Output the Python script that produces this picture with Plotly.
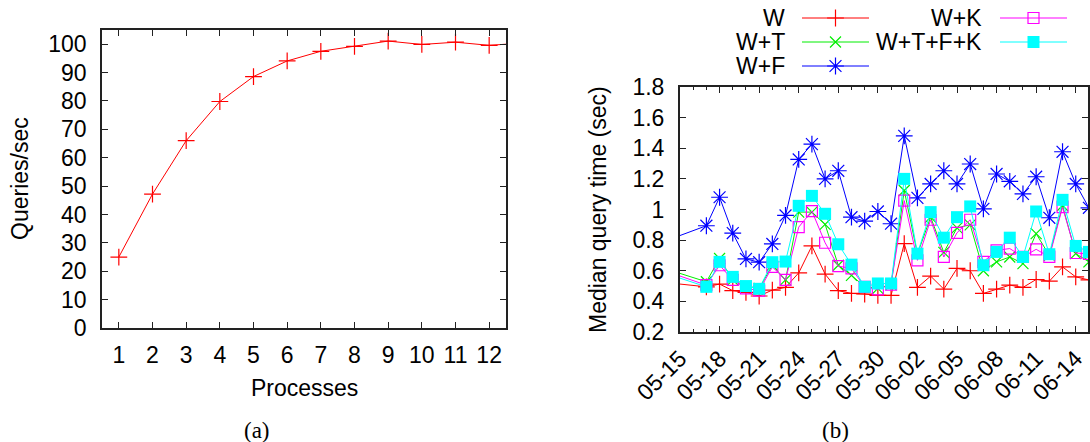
import plotly.graph_objects as go

W_PX, H_PX = 1090, 442

# ---------------- data ----------------
processes = [1, 2, 3, 4, 5, 6, 7, 8, 9, 10, 11, 12, 13]
queries_per_sec = [25.0, 47.2, 66.0, 79.8, 88.6, 94.1, 97.5, 99.2, 101.1, 99.9, 100.7, 99.6, 100.4]

dates = ["2013-05-14", "2013-05-17", "2013-05-18", "2013-05-19", "2013-05-20", "2013-05-21",
         "2013-05-22", "2013-05-23", "2013-05-24", "2013-05-25", "2013-05-26", "2013-05-27",
         "2013-05-28", "2013-05-29", "2013-05-30", "2013-05-31", "2013-06-01", "2013-06-02",
         "2013-06-03", "2013-06-04", "2013-06-05", "2013-06-06", "2013-06-07", "2013-06-08",
         "2013-06-09", "2013-06-10", "2013-06-11", "2013-06-12", "2013-06-13", "2013-06-14",
         "2013-06-15"]

w = [0.522, 0.495, 0.513, 0.47, 0.459, 0.435, 0.474, 0.491, 0.586, 0.762, 0.578, 0.47,
     0.452, 0.448, 0.439, 0.439, 0.777, 0.491, 0.565, 0.48, 0.615, 0.60, 0.452, 0.48,
     0.506, 0.491, 0.543, 0.532, 0.625, 0.56, 0.54]
w_t = [0.61, 0.528, 0.68, 0.54, 0.50, 0.485, 0.636, 0.54, 0.983, 0.983, 0.903, 0.636,
       0.57, 0.495, 0.485, 0.51, 1.124, 0.71, 0.95, 0.72, 0.88, 0.90, 0.60, 0.658,
       0.69, 0.647, 0.842, 0.70, 1.026, 0.712, 0.658]
w_f = [0.798, 0.894, 1.08, 0.846, 0.677, 0.656, 0.775, 0.961, 1.327, 1.427, 1.2, 1.253,
       0.95, 0.924, 0.987, 0.907, 1.481, 1.076, 1.167, 1.253, 1.167, 1.297, 1.004, 1.232,
       1.184, 1.102, 1.214, 0.946, 1.377, 1.167, 1.011]
w_k = [0.595, 0.506, 0.636, 0.54, 0.485, 0.47, 0.625, 0.54, 0.885, 0.99, 0.783, 0.63,
       0.615, 0.495, 0.478, 0.51, 1.058, 0.668, 0.933, 0.69, 0.848, 0.933, 0.658, 0.733,
       0.745, 0.69, 0.74, 0.69, 1.015, 0.716, 0.71]
w_tfk = [0.58, 0.495, 0.658, 0.56, 0.50, 0.482, 0.656, 0.66, 1.024, 1.089, 0.972, 0.773,
         0.64, 0.495, 0.517, 0.517, 1.2, 0.712, 0.983, 0.816, 0.95, 1.02, 0.636, 0.723,
         0.816, 0.69, 0.987, 0.708, 1.063, 0.762, 0.723]

series_names = ["W", "W+T", "W+F", "W+K", "W+T+F+K"]
series_values = [w, w_t, w_f, w_k, w_tfk]
series_colors = ["#ff0000", "#00ee00", "#0000ff", "#ff00ff", "#00ffff"]
series_symbols = ["cross-thin-open", "x-thin-open", "asterisk-open", "square-open", "square"]
series_sizes = [12, 11, 14, 11, 12]

left_yticks = [0, 10, 20, 30, 40, 50, 60, 70, 80, 90, 100]
right_yticks = [0.2, 0.4, 0.6, 0.8, 1.0, 1.2, 1.4, 1.6, 1.8]
right_yticklabels = ["0.2", "0.4", "0.6", "0.8", "1", "1.2", "1.4", "1.6", "1.8"]

FONT = "Liberation Sans"
FS = 23

def px_x(p):
    return p / W_PX

def px_y(p):
    return 1 - p / H_PX

fig = go.Figure()

# left chart
fig.add_trace(go.Scatter(
    x=processes, y=queries_per_sec, mode="lines+markers",
    line=dict(color="#ff0000", width=1),
    marker=dict(symbol="cross-thin-open", size=12, line=dict(color="#ff0000", width=1.2)),
    xaxis="x", yaxis="y", showlegend=False))

# right chart
for name, vals, col, sym, sz in zip(series_names, series_values, series_colors,
                                    series_symbols, series_sizes):
    if sym == "square":
        mk = dict(symbol=sym, size=sz, color=col, line=dict(width=0))
    else:
        mk = dict(symbol=sym, size=sz, color=col, line=dict(color=col, width=1.2))
    fig.add_trace(go.Scatter(
        x=dates, y=vals, mode="lines+markers", name=name,
        line=dict(color=col, width=1), marker=mk,
        xaxis="x2", yaxis="y2", showlegend=False))

# legend samples on an overlay axis in pixel coordinates
legend_rows = [(787, 802, 869, 18), (787, 802, 869, 42), (787, 802, 869, 66),
               (984, 1000, 1067, 18), (984, 1000, 1067, 42)]
for (tx, x0, x1, yy), name, col, sym, sz in zip(legend_rows, series_names, series_colors,
                                                 series_symbols, series_sizes):
    if sym == "square":
        mk = dict(symbol=sym, size=sz, color=col, line=dict(width=0))
    else:
        mk = dict(symbol=sym, size=sz, color=col, line=dict(color=col, width=1.2))
    fig.add_trace(go.Scatter(x=[x0, x1], y=[yy, yy], mode="lines", line=dict(color=col, width=1),
                             xaxis="x3", yaxis="y3", showlegend=False, hoverinfo="skip"))
    fig.add_trace(go.Scatter(x=[(x0 + x1) / 2], y=[yy], mode="markers", marker=mk,
                             xaxis="x3", yaxis="y3", showlegend=False, hoverinfo="skip"))
    fig.add_annotation(x=px_x(tx), y=px_y(yy), xref="paper", yref="paper", text=name,
                       showarrow=False, xanchor="right", yanchor="middle",
                       font=dict(family=FONT, size=FS, color="black"))

axis_common = dict(showline=True, linecolor="#222222", mirror="allticks", ticks="inside",
                   tickcolor="#222222", showgrid=False, zeroline=False, automargin=False,
                   tickfont=dict(family=FONT, size=FS, color="black"))

fig.update_layout(
    width=W_PX, height=H_PX, margin=dict(l=0, r=0, t=0, b=0, autoexpand=False),
    paper_bgcolor="white", plot_bgcolor="rgba(0,0,0,0)",
    xaxis=dict(domain=[px_x(102), px_x(506)], range=[0.5, 12.5], anchor="y",
               tickvals=processes[:12], ticklen=6, linewidth=1.5, ticklabelstandoff=6,
               **axis_common),
    yaxis=dict(domain=[px_y(328), px_y(30)], range=[0, 105], anchor="x",
               tickvals=left_yticks, ticklen=6, linewidth=1.5, ticklabelstandoff=9,
               **axis_common),
    xaxis2=dict(domain=[px_x(680), px_x(1088)], type="date",
                range=["2013-05-15", "2013-06-14 22:20"], anchor="y2",
                tick0="2013-05-15", dtick=3 * 86400000, tickformat="%m-%d", tickangle=-45,
                ticklen=6, linewidth=2, ticklabelstandoff=2,
                minor=dict(dtick=86400000, ticks="inside", ticklen=3, tickcolor="#222222"),
                **axis_common),
    yaxis2=dict(domain=[px_y(332), px_y(87)], range=[0.2, 1.8], anchor="x2",
                tickvals=right_yticks, ticktext=right_yticklabels, ticklen=6, linewidth=2,
                ticklabelstandoff=9, **axis_common),
    xaxis3=dict(domain=[0, 1], range=[0, W_PX], visible=False, fixedrange=True, anchor="y3",
                automargin=False),
    yaxis3=dict(domain=[0, 1], range=[H_PX, 0], visible=False, fixedrange=True, anchor="x3",
                automargin=False),
)

# axis titles and captions
fig.add_annotation(x=px_x(20), y=px_y(179), xref="paper", yref="paper", text="Queries/sec",
                   textangle=-90, showarrow=False, xanchor="center", yanchor="middle",
                   font=dict(family=FONT, size=FS, color="black"))
fig.add_annotation(x=px_x(304), y=px_y(388), xref="paper", yref="paper", text="Processes",
                   showarrow=False, xanchor="center", yanchor="middle",
                   font=dict(family=FONT, size=FS, color="black"))
fig.add_annotation(x=px_x(598), y=px_y(210), xref="paper", yref="paper",
                   text="Median query time (sec)", textangle=-90, showarrow=False,
                   xanchor="center", yanchor="middle",
                   font=dict(family=FONT, size=FS, color="black"))
fig.add_annotation(x=px_x(257), y=px_y(430), xref="paper", yref="paper", text="(a)",
                   showarrow=False, xanchor="center", yanchor="middle", borderpad=0,
                   font=dict(family="Liberation Serif", size=23, color="black"))
fig.add_annotation(x=px_x(835), y=px_y(430), xref="paper", yref="paper", text="(b)",
                   showarrow=False, xanchor="center", yanchor="middle", borderpad=0,
                   font=dict(family="Liberation Serif", size=23, color="black"))

fig.write_html("out.html", config={"displayModeBar": False},
               post_script="document.body.style.margin='0';document.body.style.overflow='hidden';")
